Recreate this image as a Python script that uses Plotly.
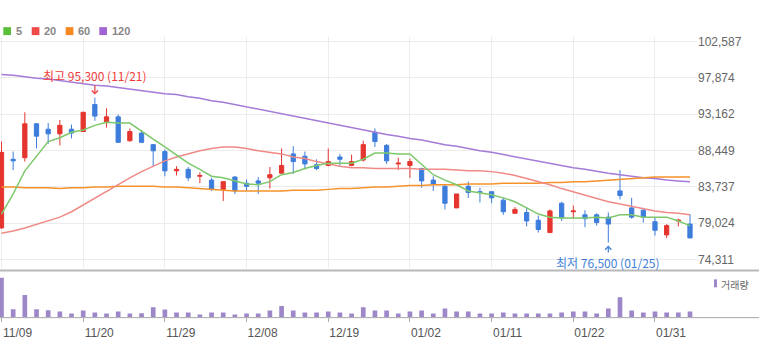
import plotly.graph_objects as go

W, H = 759, 341

# Trading days (MM/DD)
dates = ["11/09", "11/10", "11/13", "11/14", "11/15", "11/16", "11/17", "11/20", "11/21", "11/22",
         "11/23", "11/24", "11/27", "11/28", "11/29", "11/30", "12/01", "12/04", "12/05", "12/06",
         "12/07", "12/08", "12/11", "12/12", "12/13", "12/14", "12/15", "12/18", "12/19", "12/20",
         "12/21", "12/22", "12/26", "12/27", "12/28", "01/02", "01/03", "01/04", "01/05", "01/08",
         "01/09", "01/10", "01/11", "01/12", "01/15", "01/16", "01/17", "01/18", "01/19", "01/22",
         "01/23", "01/24", "01/25", "01/26", "01/29", "01/30", "01/31", "02/01", "02/02", "02/05"]

open_ = [78400, 87300, 87500, 91900, 91200, 90600, 91200, 90900, 94400, 92100,
         92800, 89700, 90700, 89200, 88300, 85800, 86000, 85100, 84600, 83400,
         85000, 84200, 84500, 84900, 85500, 88000, 87700, 86600, 86500, 87600,
         86500, 87200, 90800, 89100, 86700, 86500, 86100, 84600, 83800, 81000,
         83800, 83100, 83100, 82000, 80300, 80400, 79400, 77800, 81600, 80500,
         80100, 80100, 79800, 83200, 81000, 80700, 79200, 77500, 79300, 78900]
high = [89600, 88300, 93400, 92000, 92000, 92400, 91800, 93400, 95300, 93900,
        93100, 91300, 91100, 89200, 88600, 86400, 86300, 85600, 84900, 84400,
        85100, 84700, 85000, 86300, 88700, 89000, 88300, 87300, 88700, 88000,
        87900, 89700, 91300, 89300, 87500, 87400, 86200, 85100, 84000, 82800,
        84400, 83600, 83100, 82300, 81100, 81000, 80000, 80800, 81800, 81300,
        80700, 80300, 80400, 85900, 82300, 81000, 79800, 78900, 79600, 80200]
low = [78300, 85900, 87000, 88700, 89300, 89100, 90000, 90900, 92300, 91400,
       89400, 89600, 89400, 86300, 85100, 85200, 84500, 84200, 83200, 81900,
       82800, 83200, 82800, 83500, 85500, 85400, 86000, 85900, 86400, 86500,
       86400, 87000, 88900, 86700, 85900, 84900, 83600, 83200, 80800, 81000,
       82300, 81700, 81600, 80100, 80300, 78600, 77800, 77800, 79300, 79600,
       78500, 78700, 76500, 82100, 79600, 79100, 77400, 77100, 78600, 77100]
close = [88200, 87100, 91900, 90300, 90600, 91700, 90700, 93400, 92900, 92800,
         89500, 90900, 89500, 88400, 85800, 86000, 84900, 85200, 83400, 84400,
         83200, 83800, 84200, 85300, 86500, 87000, 86700, 86100, 87000, 87300,
         87000, 89200, 89600, 87100, 86800, 87000, 84500, 84100, 81600, 82800,
         83000, 83000, 82300, 80500, 80800, 79300, 78200, 80600, 79700, 80600,
         79600, 79100, 78900, 82600, 79800, 79800, 78100, 78700, 79400, 77100]

volume = [992000, 201000, 557000, 199000, 176000, 142000, 94000, 167000, 117000, 92000,
          143000, 91000, 95000, 251000, 192000, 118000, 117000, 68000, 119000, 116000,
          67000, 93000, 94000, 168000, 283000, 166000, 118000, 119000, 142000, 117000,
          92000, 249000, 168000, 167000, 93000, 143000, 168000, 92000, 217000, 143000,
          142000, 93000, 94000, 118000, 92000, 93000, 94000, 92000, 117000, 143000,
          142000, 93000, 218000, 500000, 167000, 118000, 143000, 117000, 118000, 142000]

ma5 = [80200, 82800, 85800, 87700, 89600, 90100, 90800, 91100, 91700, 92100,
       92000, 92000, 90900, 89900, 88900, 87900, 86800, 86000, 85100, 84900,
       84500, 84100, 84000, 84400, 85300, 85600, 86100, 86500, 86800, 86800,
       86800, 87300, 88100, 88100, 88000, 88000, 86600, 85300, 84600, 84000,
       83200, 82900, 82700, 82300, 81800, 81000, 80200, 79800, 79700, 79700,
       79700, 79800, 79700, 80100, 80100, 79800, 79800, 79800, 79300, 78700]
ma20 = [77700, 78000, 78400, 78900, 79300, 79800, 80500, 81400, 82300, 83200,
        84100, 84900, 85700, 86400, 87100, 87600, 88000, 88400, 88700, 88900,
        88900, 88700, 88400, 88200, 88000, 87600, 87400, 87000, 86700, 86400,
        86200, 86200, 86100, 86100, 86100, 86100, 86000, 86000, 86000, 85900,
        85800, 85800, 85700, 85500, 85200, 84800, 84400, 84000, 83500, 83100,
        82700, 82200, 81800, 81500, 81200, 80900, 80600, 80400, 80300, 80100]
ma60 = [83700, 83700, 83600, 83600, 83600, 83500, 83600, 83600, 83700, 83700,
        83800, 83800, 83800, 83800, 83700, 83700, 83600, 83500, 83400, 83300,
        83200, 83200, 83200, 83200, 83200, 83300, 83300, 83300, 83400, 83500,
        83500, 83600, 83700, 83700, 83800, 83900, 83900, 84000, 84000, 84000,
        84100, 84100, 84100, 84200, 84200, 84200, 84200, 84300, 84300, 84400,
        84400, 84500, 84600, 84700, 84800, 84900, 85000, 85000, 85000, 85000]
ma120 = [98300, 98200, 98000, 97800, 97700, 97500, 97300, 97100, 96900, 96800,
         96600, 96400, 96200, 96000, 95800, 95700, 95400, 95200, 94900, 94700,
         94400, 94100, 93800, 93500, 93200, 92900, 92600, 92300, 92000, 91700,
         91400, 91100, 90800, 90500, 90300, 90000, 89800, 89500, 89200, 89000,
         88700, 88400, 88200, 87900, 87600, 87300, 87100, 86800, 86500, 86200,
         86000, 85700, 85500, 85300, 85100, 84900, 84800, 84600, 84500, 84400]

price_ticks = [74311, 79024, 83737, 88449, 93162, 97874, 102587]
ma_periods = ["5", "20", "60", "120"]
ma_colors = ["#7dc86a", "#f08a86", "#f5922a", "#a57ad8"]
legend_colors = ["#5cbf3c", "#ef4a4a", "#f5881f", "#a064d4"]

idx = list(range(len(dates)))
tick_idx = idx[::7]
tick_text = [dates[i] for i in tick_idx]

hi_i = high.index(max(high))
lo_i = low.index(min(low))

RED = "#e4352e"
BLUE = "#3d7ddc"
GRID = "#ececec"
FONT = "Liberation Sans, Noto Sans CJK KR, sans-serif"
KFONT = "Noto Sans CJK KR, sans-serif"


def px(x):
    return x / W


def py(y):
    return 1 - y / H


fig = go.Figure()

for series, col in zip([ma120, ma60, ma20, ma5], ma_colors[::-1]):
    fig.add_trace(go.Scatter(x=idx, y=series, mode="lines",
                             line=dict(color=col, width=1.5),
                             xaxis="x", yaxis="y", hoverinfo="skip"))

fig.add_trace(go.Candlestick(
    x=idx, open=open_, high=high, low=low, close=close,
    increasing=dict(line=dict(color=RED, width=1), fillcolor=RED),
    decreasing=dict(line=dict(color=BLUE, width=1), fillcolor=BLUE),
    whiskerwidth=0, xaxis="x", yaxis="y"))

fig.add_trace(go.Bar(x=idx, y=volume, width=0.4, marker=dict(color="#9d87c9", line=dict(width=0)),
                     xaxis="x2", yaxis="y2", hoverinfo="skip"))

x_dom = [0, px(697)]
x_rng = [-0.1286, 59.6]

fig.update_layout(
    width=W, height=H,
    margin=dict(l=0, r=0, t=0, b=0),
    paper_bgcolor="white", plot_bgcolor="white",
    showlegend=False,
    boxgap=0.48,
    xaxis=dict(domain=x_dom, range=x_rng, showticklabels=False, showgrid=True,
               gridcolor=GRID, gridwidth=1, tickvals=tick_idx, zeroline=False,
               showline=False, ticks="", rangeslider=dict(visible=False)),
    yaxis=dict(domain=[py(268), py(35)], range=[73151, 103180], side="right",
               tickvals=price_ticks, ticktext=[f"{v:,}" for v in price_ticks],
               showgrid=True, gridcolor=GRID, gridwidth=1, zeroline=False,
               showline=False, ticks="", tickfont=dict(family=FONT, size=12, color="#666")),
    xaxis2=dict(domain=x_dom, range=x_rng, anchor="y2", showgrid=False, zeroline=False,
                showline=False, tickvals=tick_idx, ticktext=tick_text,
                ticks="outside", ticklen=4, tickcolor="#aaa", ticklabelshift=16,
                tickfont=dict(family=FONT, size=12, color="#555")),
    yaxis2=dict(domain=[py(317), py(272)], range=[0, 1125000], showticklabels=False,
                showgrid=False, zeroline=False, showline=False, ticks=""),
)

shapes = [
    dict(type="line", xref="paper", yref="paper", x0=0, x1=1, y0=py(270), y1=py(270),
         line=dict(color="#b8b8b8", width=2)),
    dict(type="line", xref="paper", yref="paper", x0=0, x1=1, y0=py(317.5), y1=py(317.5),
         line=dict(color="#a8a8a8", width=1)),
    dict(type="rect", xref="paper", yref="paper", x0=px(714), x1=px(717), y0=py(287), y1=py(279),
         fillcolor="#9d87c9", line=dict(width=0)),
]

annotations = []
# MA legend
leg_x = [3.3, 31.7, 65.7, 99.3]
for lx, name, col in zip(leg_x, ma_periods, legend_colors):
    shapes.append(dict(type="rect", xref="paper", yref="paper", x0=px(lx), x1=px(lx + 7.7),
                       y0=py(33.3), y1=py(25.3), fillcolor=col, line=dict(width=0)))
    annotations.append(dict(xref="paper", yref="paper", x=px(lx + 10.5), y=py(29.5),
                            text=f"<b>{name}</b>", showarrow=False, xanchor="left", yanchor="middle",
                            font=dict(family=FONT, size=11, color="#888")))

annotations.append(dict(xref="paper", yref="paper", x=px(719), y=py(284), text="거래량",
                        showarrow=False, xanchor="left", yanchor="middle",
                        font=dict(family=KFONT, size=10, color="#666")))

annotations.append(dict(x=hi_i, y=high[hi_i], xref="x", yref="y",
                        text=f"최고 {high[hi_i]:,} ({dates[hi_i]})",
                        showarrow=True, arrowhead=4, arrowsize=1, arrowwidth=1.2,
                        arrowcolor="#f03c3c", ax=0, ay=-22, standoff=3,
                        font=dict(family=KFONT, size=12, color="#f03c3c")))
annotations.append(dict(x=lo_i, y=low[lo_i], xref="x", yref="y",
                        text=f"최저 {low[lo_i]:,} ({dates[lo_i]})",
                        showarrow=True, arrowhead=4, arrowsize=1, arrowwidth=1.2,
                        arrowcolor="#3f7fd9", ax=0, ay=20, standoff=3,
                        font=dict(family=KFONT, size=12, color="#3f7fd9")))

fig.update_layout(shapes=shapes, annotations=annotations)

fig.write_html("out.html")
